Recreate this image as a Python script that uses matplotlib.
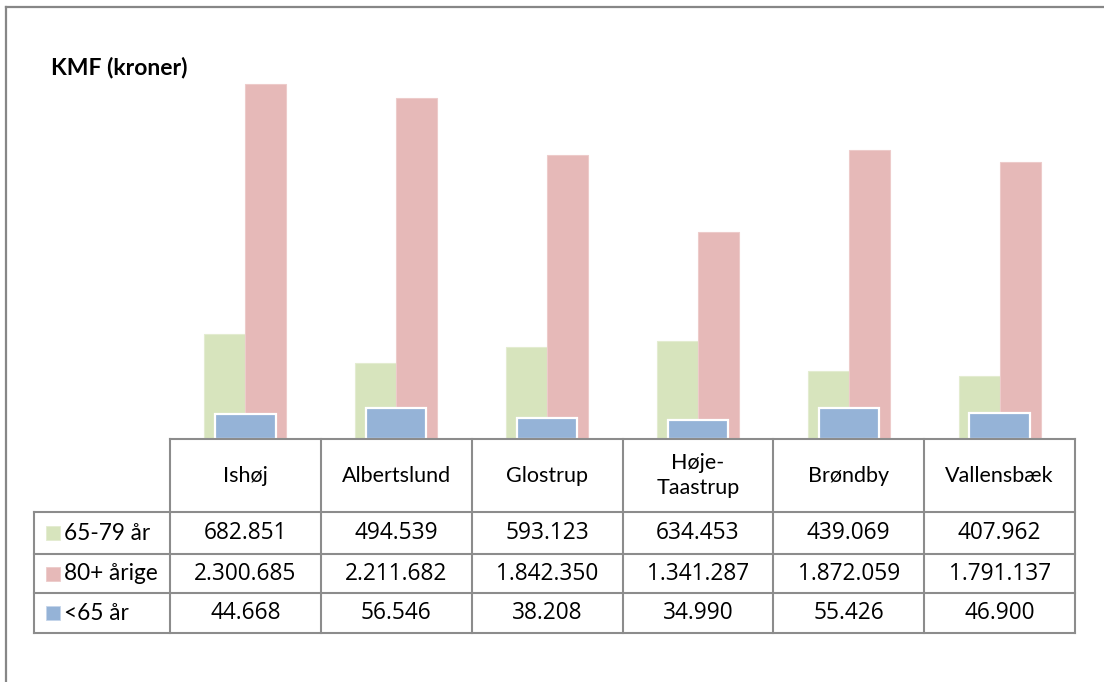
import matplotlib
matplotlib.use("Agg")
import matplotlib.pyplot as plt
from matplotlib.lines import Line2D
from matplotlib.patches import Rectangle

categories = ["Ishøj", "Albertslund", "Glostrup", "Høje-\nTaastrup", "Brøndby", "Vallensbæk"]
series_names = ["65-79 år", "80+ årige", "<65 år"]
v_65_79 = [682851, 494539, 593123, 634453, 439069, 407962]
v_80 = [2300685, 2211682, 1842350, 1341287, 1872059, 1791137]
v_u65 = [44668, 56546, 38208, 34990, 55426, 46900]
title = "KMF (kroner)"

colors = ["#D7E4BD", "#E6B9B8", "#95B3D7"]
edge_light = ["#E3ECD0", "#EDCBCA", "#FFFFFF"]

W, H = 1104, 682
fig = plt.figure(figsize=(W / 100, H / 100), dpi=100)
plt.rcParams['font.family'] = ['Lato', 'DejaVu Sans']

def fx(x):
    return x / W

def fy(y):
    return 1 - y / H

ax_left, ax_right, ax_bottom, ax_top = 170, 1075, 439, 53
ax = fig.add_axes([fx(ax_left), fy(ax_bottom), fx(ax_right - ax_left), (ax_bottom - ax_top) / H])
ax2 = ax.twinx()

n = len(categories)
xs = list(range(n))
bw = 0.272
ax.bar([x - bw / 2 for x in xs], v_65_79, width=bw, color=colors[0], edgecolor=edge_light[0], linewidth=0.8)
ax.bar([x + bw / 2 for x in xs], v_80, width=bw, color=colors[1], edgecolor=edge_light[1], linewidth=0.8)
ax2.bar(xs, v_u65, width=0.40, color=colors[2], edgecolor="white", linewidth=1.6)

for a in (ax, ax2):
    a.set_xlim(-0.5, n - 0.5)
    a.set_xticks([])
    a.set_yticks([])
    for s in a.spines.values():
        s.set_visible(False)
    a.patch.set_visible(False)
ax.set_ylim(0, 2500000)
ax2.set_ylim(0, 700000)

# Title
fig.text(fx(51), fy(67), title, fontsize=16.5, fontweight="bold", ha="left", va="center")

# Figure border (top & left)
bc = "#878787"
fig.add_artist(Line2D([fx(6), 1], [fy(7), fy(7)], color=bc, lw=1.6, transform=fig.transFigure))
fig.add_artist(Line2D([fx(6), fx(6)], [fy(7), 0], color=bc, lw=1.6, transform=fig.transFigure))

# Data table
gc = "#8C8C8C"
lw = 1.5
label_left = 34
col_w = (ax_right - ax_left) / n
row_lines = [439, 512, 554, 593, 633]
fig.add_artist(Line2D([fx(ax_left), fx(ax_right)], [fy(439), fy(439)], color=gc, lw=lw, transform=fig.transFigure))
for y in row_lines[1:]:
    fig.add_artist(Line2D([fx(label_left), fx(ax_right)], [fy(y), fy(y)], color=gc, lw=lw, transform=fig.transFigure))
fig.add_artist(Line2D([fx(label_left), fx(label_left)], [fy(512), fy(633)], color=gc, lw=lw, transform=fig.transFigure))
for i in range(n + 1):
    x = ax_left + i * col_w
    fig.add_artist(Line2D([fx(x), fx(x)], [fy(439), fy(633)], color=gc, lw=lw, transform=fig.transFigure))

fs = 15.5
fs_lab = 16.3
fs_num = 16.3
for i, c in enumerate(categories):
    cx = ax_left + (i + 0.5) * col_w
    fig.text(fx(cx), fy((439 + 512) / 2), c, fontsize=fs, ha="center", va="center", linespacing=1.3)

rows = [v_65_79, v_80, v_u65]

def fmt(v):
    return f"{v:,}".replace(",", ".")

for r, (name, vals) in enumerate(zip(series_names, rows)):
    cy = (row_lines[r + 1] + row_lines[r + 2]) / 2
    fig.add_artist(Rectangle((fx(46), fy(cy + 7)), fx(14), 14 / H, facecolor=colors[r],
                             edgecolor=edge_light[r] if r < 2 else "#C5D5EA", lw=0.6, transform=fig.transFigure))
    fig.text(fx(64), fy(cy), name, fontsize=fs_lab, ha="left", va="center")
    for i, v in enumerate(vals):
        cx = ax_left + (i + 0.5) * col_w
        fig.text(fx(cx), fy(cy), fmt(v), fontsize=fs_num, ha="center", va="center",
                 family=["Open Sans", "DejaVu Sans"])

fig.savefig("out.png", dpi=100)
